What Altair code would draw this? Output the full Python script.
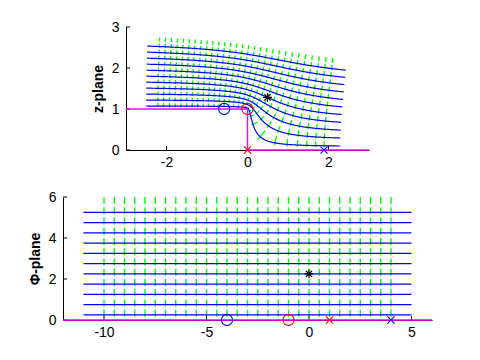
import altair as alt
import numpy as np
import pandas as pd

# ---- Phi-plane grid ----
stream_y = [0.25, 0.75, 1.25, 1.75, 2.25, 2.75, 3.25, 3.75, 4.25, 4.75, 5.25]
stream_x_start = -11.0
stream_x_end = 5.0
equi_x = [-10, -9.5, -9, -8.5, -8, -7.5, -7, -6.5, -6, -5.5, -5, -4.5, -4, -3.5,
          -3, -2.5, -2, -1.5, -1, -0.5, 0, 0.5, 1, 1.5, 2, 2.5, 3, 3.5, 4]
equi_y_top = 6.0
equi_y_bottom = 0.0
dash_period = 0.5
dash_on = 0.34

# special points in the Phi-plane
mk_x = [-4, -1, 1, 4, 0]
mk_y = [0, 0, 0, 0, 2.25]
mk_kind = ["o", "o", "x", "x", "*"]
mk_color = ["#0000ff", "#ff0000", "#ff0000", "#0000ff", "#000000"]

# boundaries
zb_x = [-3, 0, 0, 3]
zb_y = [1, 1, 0, 0]
pb_x = [-12, 6]
pb_y = [0, 0]

# axis ticks
z_xticks = [-2, 0, 2]
z_yticks = [0, 1, 2, 3]
p_xticks = [-10, -5, 0, 5]
p_yticks = [0, 2, 4, 6]


def zmap(phi):
    phi = np.asarray(phi, dtype=complex)
    s = np.sqrt(phi - 1) * np.sqrt(phi + 1)
    return (s + np.log(phi + s)) / np.pi


# streamlines
rows = []
t = np.linspace(stream_x_start, stream_x_end, 500)
for i, yv in enumerate(stream_y):
    phi = t + 1j * yv
    z = zmap(phi)
    for k in range(len(t)):
        rows.append(dict(id=f"s{i}", o=k, px=t[k], py=yv, zx=z[k].real, zy=z[k].imag))
stream = pd.DataFrame(rows)

# equipotentials (dashed: one dash per period, from the top)
rows = []
nper = int(round((equi_y_top - equi_y_bottom) / dash_period))
for j, xv in enumerate(equi_x):
    for k in range(nper):
        y0 = equi_y_top - k * dash_period
        ys = np.linspace(y0, y0 - dash_on, 8)
        z = zmap(xv + 1j * ys)
        for m in range(len(ys)):
            rows.append(dict(id=f"e{j}_{k}", o=m, px=xv, py=ys[m], zx=z[m].real, zy=z[m].imag))
equi = pd.DataFrame(rows)

shapes = {"o": "circle", "x": "M-1,-1L1,1M-1,1L1,-1",
          "*": "M-1,0L1,0M0,-1L0,1M-0.7,-0.7L0.7,0.7M-0.7,0.7L0.7,-0.7"}
sizes = {"o": 125, "x": 50, "*": 80}
zm = zmap(np.array(mk_x) + 1j * np.array(mk_y) + 0j)
marks = pd.DataFrame(dict(px=mk_x, py=mk_y, zx=zm.real, zy=zm.imag,
                          shape=[shapes[k] for k in mk_kind],
                          size=[sizes[k] for k in mk_kind], color=mk_color))

FONT = "Liberation Sans"


def panel(xcol, ycol, xdom, ydom, w, h, xticks, yticks, title, bx, by):
    xs = alt.Scale(domain=xdom, nice=False, zero=False)
    ys = alt.Scale(domain=ydom, nice=False, zero=False)
    ax = alt.Axis(values=xticks, ticks=False, grid=False, labelPadding=5,
                  labelExpr="datum.value + ''",
                  domainColor="black", labelColor="black", labelFont=FONT, labelFontSize=14)
    ay = alt.Axis(values=yticks, ticks=False, grid=False, labelPadding=7,
                  labelExpr="datum.value + ''",
                  domainColor="black", labelColor="black", labelFont=FONT, labelFontSize=14,
                  titleFont=FONT, titleFontSize=14, titleFontWeight="bold", titleColor="black",
                  titlePadding=6)
    X = alt.X("x:Q", scale=xs, axis=ax, title=None)
    Y = alt.Y("y:Q", scale=ys, axis=ay, title=title)

    e = equi.rename(columns={xcol: "x", ycol: "y"})[["id", "o", "x", "y"]]
    s = stream.rename(columns={xcol: "x", ycol: "y"})[["id", "o", "x", "y"]]
    m = marks.rename(columns={xcol: "x", ycol: "y"})[["x", "y", "shape", "size", "color"]]
    b = pd.DataFrame(dict(x=bx, y=by, o=list(range(len(bx)))))
    tx = pd.DataFrame(dict(x=xticks))
    ty = pd.DataFrame(dict(y=yticks))

    l_e = alt.Chart(e).mark_line(color="#00ff00", strokeWidth=1.4).encode(
        x=X, y=Y, detail="id:N", order="o:Q")
    l_s = alt.Chart(s).mark_line(color="#0000ff", strokeWidth=1.2).encode(
        x=X, y=Y, detail="id:N", order="o:Q")
    l_b = alt.Chart(b).mark_line(color="#ff00ff", strokeWidth=1.4).encode(
        x=X, y=Y, order="o:Q")
    l_m = alt.Chart(m).mark_point(filled=False, strokeWidth=1.1, opacity=1).encode(
        x=X, y=Y,
        shape=alt.Shape("shape:N", scale=None),
        size=alt.Size("size:Q", scale=None),
        color=alt.Color("color:N", scale=None))
    l_tx = alt.Chart(tx).mark_rule(color="black", strokeWidth=1).encode(
        x=X, y=alt.value(h), y2=alt.value(h - 4))
    l_ty = alt.Chart(ty).mark_rule(color="black", strokeWidth=1).encode(
        y=Y, x=alt.value(0), x2=alt.value(4))
    return alt.layer(l_e, l_s, l_tx, l_ty, l_b, l_m).properties(width=w, height=h)


top = panel("zx", "zy", [-3, 3], [0, 3], 243, 123, z_xticks, z_yticks, "z-plane", zb_x, zb_y)
bot = panel("px", "py", [-12, 6], [0, 6], 369, 123, p_xticks, p_yticks, "Φ-plane", pb_x, pb_y)

chart = alt.vconcat(top, bot, spacing=47, center=True, bounds="flush").properties(
    padding={"left": 20, "top": 12, "right": 5, "bottom": 5}
).configure_view(stroke=None)

chart.save("out.html", embed_options={"renderer": "svg", "actions": False})
